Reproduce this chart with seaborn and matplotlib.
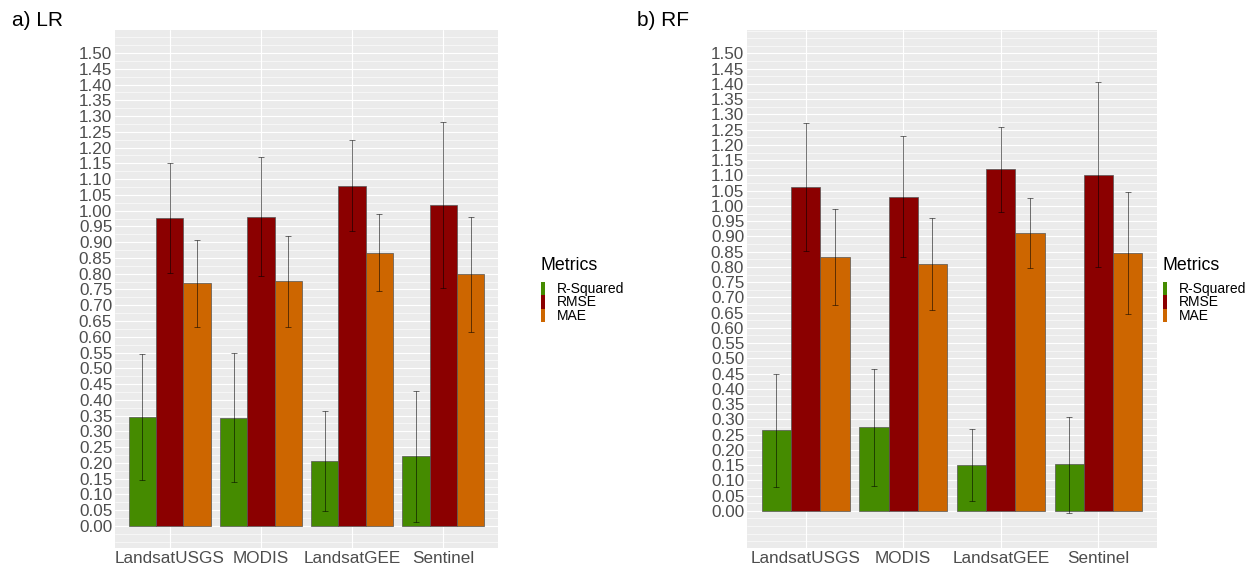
import numpy as np
import pandas as pd
import matplotlib
matplotlib.use("Agg")
import matplotlib.pyplot as plt
import seaborn as sns
from matplotlib.patches import Rectangle
from matplotlib.ticker import MultipleLocator

sources = ["LandsatUSGS", "MODIS", "LandsatGEE", "Sentinel"]
metrics = ["R-Squared", "RMSE", "MAE"]
colors = ["#458B00", "#8B0000", "#CD6600"]

# a) LR
lr_r2 = [0.347, 0.343, 0.205, 0.221]
lr_r2_lo = [0.146, 0.139, 0.047, 0.012]
lr_r2_hi = [0.546, 0.549, 0.363, 0.428]
lr_rmse = [0.976, 0.981, 1.079, 1.019]
lr_rmse_lo = [0.801, 0.794, 0.936, 0.754]
lr_rmse_hi = [1.150, 1.170, 1.225, 1.282]
lr_mae = [0.770, 0.776, 0.867, 0.798]
lr_mae_lo = [0.632, 0.632, 0.745, 0.616]
lr_mae_hi = [0.907, 0.919, 0.989, 0.980]

# b) RF
rf_r2 = [0.266, 0.275, 0.150, 0.152]
rf_r2_lo = [0.079, 0.082, 0.033, -0.007]
rf_r2_hi = [0.448, 0.465, 0.269, 0.308]
rf_rmse = [1.062, 1.030, 1.121, 1.102]
rf_rmse_lo = [0.853, 0.833, 0.981, 0.800]
rf_rmse_hi = [1.273, 1.228, 1.259, 1.405]
rf_mae = [0.831, 0.808, 0.910, 0.846]
rf_mae_lo = [0.674, 0.657, 0.795, 0.647]
rf_mae_hi = [0.989, 0.959, 1.025, 1.045]

y_ticks = [round(0.05 * i, 2) for i in range(31)]

sns.set_theme(style="darkgrid")
plt.rcParams["font.family"] = ["Liberation Sans", "DejaVu Sans"]

W, H = 1257, 569
fig = plt.figure(figsize=(W / 100, H / 100), dpi=100)
fig.patch.set_facecolor("white")


def build(vals, los, his):
    rows = []
    for m, v, lo, hi in zip(metrics, vals, los, his):
        for s, a, b, c in zip(sources, v, lo, hi):
            rows.append({"Source": s, "Metric": m, "value": a, "lo": b, "hi": c})
    return pd.DataFrame(rows)


def fx(px):
    return px / W


def fy(py):
    return 1 - py / H


def panel(rect, df, ylim, title, title_xy, legend_xy):
    ax = fig.add_axes(rect)
    sns.barplot(data=df, x="Source", y="value", hue="Metric", order=sources,
                hue_order=metrics, palette=colors, width=0.9, errorbar=None,
                edgecolor="#555555", linewidth=0.5, saturation=1, ax=ax, legend=False)
    for cont, m in zip(ax.containers, metrics):
        sub = df[df["Metric"] == m].set_index("Source").loc[sources]
        xs = [p.get_x() + p.get_width() / 2 for p in cont.patches]
        ys = sub["value"].values
        err = np.vstack([ys - sub["lo"].values, sub["hi"].values - ys])
        ax.errorbar(xs, ys, yerr=err, fmt="none", ecolor="#000000", alpha=0.55,
                    elinewidth=0.7, capsize=2.2, capthick=0.7, zorder=5)
    ax.set_facecolor("#EBEBEB")
    ax.set_xlim(-0.6, 3.6)
    ax.set_ylim(*ylim)
    ax.set_yticks(y_ticks)
    ax.set_yticklabels([f"{t:.2f}" for t in y_ticks])
    ax.yaxis.set_minor_locator(MultipleLocator(0.025))
    ax.grid(which="major", color="white", linewidth=0.8)
    ax.grid(which="minor", axis="y", color="white", linewidth=0.4)
    ax.set_axisbelow(True)
    for sp in ax.spines.values():
        sp.set_visible(False)
    ax.tick_params(axis="both", which="both", length=0, labelsize=12.3,
                   labelcolor="#4D4D4D", pad=2)
    ax.set_xlabel("")
    ax.set_ylabel("")
    fig.text(fx(title_xy[0]), fy(title_xy[1]), title, fontsize=15,
             ha="left", va="center", color="black")
    # legend (guide)
    lx, ly = legend_xy
    fig.text(fx(lx), fy(ly), "Metrics", fontsize=12.8, ha="left",
             va="center", color="black")
    key_top = ly + 17
    key_h = 13.3
    for i, (c, lab) in enumerate(zip(colors, metrics)):
        top = key_top + i * key_h
        fig.add_artist(Rectangle((fx(lx), fy(top + key_h)), 4 / W, key_h / H,
                                 facecolor=c, edgecolor="none",
                                 transform=fig.transFigure))
        fig.text(fx(lx + 16), fy(top + key_h / 2 + 0.5), lab, fontsize=10,
                 ha="left", va="center", color="black")
    return ax


panel([115 / W, 1 - 548 / H, 383 / W, 518 / H], build([lr_r2, lr_rmse, lr_mae],
      [lr_r2_lo, lr_rmse_lo, lr_mae_lo], [lr_r2_hi, lr_rmse_hi, lr_mae_hi]),
      (-0.07, 1.573), "a) LR", (12, 20), (541, 265))
panel([747 / W, 1 - 548 / H, 410 / W, 518 / H], build([rf_r2, rf_rmse, rf_mae],
      [rf_r2_lo, rf_rmse_lo, rf_mae_lo], [rf_r2_hi, rf_rmse_hi, rf_mae_hi]),
      (-0.122, 1.577), "b) RF", (637, 20), (1163, 265))

fig.savefig("out.png", dpi=100, facecolor="white")
